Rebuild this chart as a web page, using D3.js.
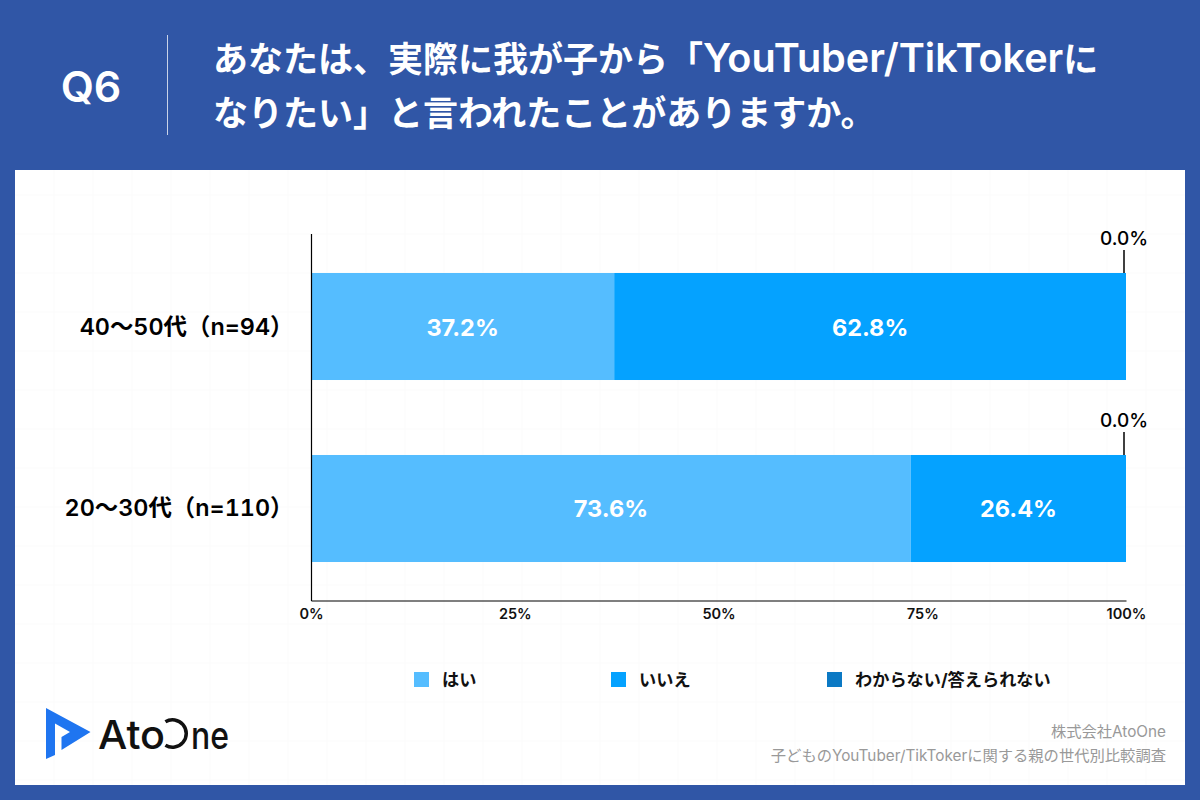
<!DOCTYPE html>
<html>
<head>
<meta charset="utf-8">
<script src="https://cdn.jsdelivr.net/npm/d3@7"></script>
<style>
  html, body { margin: 0; padding: 0; background: #3056a6; }
  svg { display: block; }
  text { font-family: "Inter", "Noto Sans CJK JP", sans-serif; }
</style>
</head>
<body>
<div id="chart"></div>
<script>
// chart data
const groups = ["40〜50代（n=94）", "20〜30代（n=110）"];
const answers = ["はい", "いいえ", "わからない/答えられない"];
const yesValues = [37.2, 73.6];
const noValues = [62.8, 26.4];
const unsureValues = [0.0, 0.0];
const tickValues = [0, 25, 50, 75, 100];
const answerColors = ["#55bdff", "#05a2ff", "#0b79c4"];

const titleLines = ["あなたは、実際に我が子から「YouTuber/TikTokerに", "なりたい」と言われたことがありますか。"];
const footerLines = ["株式会社AtoOne", "子どものYouTuber/TikTokerに関する親の世代別比較調査"];

const width = 1200;
const height = 800;

const svg = d3.select("#chart")
.append("svg")
.attr("width", width)
.attr("height", height);

// blue page background and white card
svg.append("rect")
.attr("width", width)
.attr("height", height)
.attr("fill", "#3056a6");

svg.append("rect")
.attr("x", 15)
.attr("y", 170)
.attr("width", 1170)
.attr("height", 615)
.attr("fill", "#fff");

// very faint grid on the card
const grid = svg.append("g").attr("stroke", "#fbfbfb").attr("stroke-width", 1);
d3.range(54, 1185, 39).forEach(x => {
    grid.append("line").attr("x1", x).attr("x2", x).attr("y1", 170).attr("y2", 785);
});
d3.range(195, 785, 39).forEach(y => {
    grid.append("line").attr("x1", 15).attr("x2", 1185).attr("y1", y).attr("y2", y);
});

// header
svg.append("text")
.attr("x", 91)
.attr("y", 102)
.attr("text-anchor", "middle")
.attr("font-size", 43)
.attr("font-weight", 600)
.attr("fill", "#fff")
.text("Q6");

svg.append("line")
.attr("x1", 167.5)
.attr("x2", 167.5)
.attr("y1", 35)
.attr("y2", 135)
.attr("stroke", "#c9d3e8")
.attr("stroke-width", 1);

// latin runs in the title are set a little larger than the kana
const titles = svg.selectAll(".title")
.data(titleLines)
.enter()
.append("text")
.attr("class", "title")
.attr("x", 213)
.attr("y", (d, i) => 72 + i * 54)
.attr("font-size", 35)
.attr("font-weight", 700)
.attr("fill", "#fff");

titles.selectAll("tspan")
.data(d => d.split(/([A-Za-z\/]+)/).filter(s => s.length))
.enter()
.append("tspan")
.attr("font-size", d => /^[A-Za-z\/]+$/.test(d) ? 39.6 : null)
.attr("font-weight", d => /^[A-Za-z\/]+$/.test(d) ? 600 : null)
.text(d => d);

// scales
const x = d3.scaleLinear()
.domain([0, 100])
.range([311, 1126]);

const y = d3.scaleBand()
.domain(groups)
.range([234.5, 600.5])
.paddingInner(0.412)
.paddingOuter(0.2115);

// stack the three answers
const rows = groups.map((g, i) => ({
    group: g,
    [answers[0]]: yesValues[i],
    [answers[1]]: noValues[i],
    [answers[2]]: unsureValues[i]
}));
const stacked = d3.stack().keys(answers)(rows);

const layers = svg.selectAll(".layer")
.data(stacked)
.enter()
.append("g")
.attr("class", "layer")
.attr("fill", (d, i) => answerColors[i]);

layers.selectAll("rect")
.data(d => d)
.enter()
.append("rect")
.attr("x", d => x(d[0]))
.attr("y", d => y(d.data.group))
.attr("width", d => x(d[1]) - x(d[0]))
.attr("height", y.bandwidth());

// value labels inside the bars
layers.selectAll("text")
.data(d => d.filter(v => v[1] - v[0] > 0))
.enter()
.append("text")
.attr("x", d => (x(d[0]) + x(d[1])) / 2)
.attr("y", d => y(d.data.group) + y.bandwidth() / 2 + 9)
.attr("text-anchor", "middle")
.attr("font-size", 23.5)
.attr("font-weight", 700)
.attr("fill", "#fff")
.text(d => `${(d[1] - d[0]).toFixed(1)}%`);

// zero value callouts above the bars
const zeroLabels = svg.selectAll(".zero")
.data(groups)
.enter()
.append("g")
.attr("class", "zero");

zeroLabels.append("line")
.attr("x1", 1124)
.attr("x2", 1124)
.attr("y1", g => y(g) - 23)
.attr("y2", g => y(g))
.attr("stroke", "#000")
.attr("stroke-width", 1.5);

zeroLabels.append("text")
.attr("x", 1124)
.attr("y", g => y(g) - 28)
.attr("text-anchor", "middle")
.attr("font-size", 19)
.attr("font-weight", 500)
.attr("fill", "#000")
.text((g, i) => `${unsureValues[i].toFixed(1)}%`);

// group labels on the left
svg.selectAll(".group")
.data(groups)
.enter()
.append("text")
.attr("class", "group")
.attr("x", 293.5)
.attr("y", g => y(g) + y.bandwidth() / 2 + 8)
.attr("text-anchor", "end")
.attr("font-size", 23.4)
.attr("font-weight", 600)
.attr("fill", "#000")
.style("font-variant-numeric", "tabular-nums")
.text(g => g);

// axes
const xAxis = d3.axisBottom(x)
.tickValues(tickValues)
.tickSize(0)
.tickPadding(8)
.tickFormat(d => `${d}%`);

const xAxisG = svg.append("g")
.attr("transform", "translate(0,600.5)")
.call(xAxis);

xAxisG.select(".domain").attr("stroke", "#000").attr("stroke-width", 1.2);
xAxisG.selectAll("text")
.attr("font-size", 14.5)
.attr("font-weight", 600)
.attr("fill", "#111")
.style("font-family", "Inter");

svg.append("line")
.attr("x1", 311.5)
.attr("x2", 311.5)
.attr("y1", 234)
.attr("y2", 601)
.attr("stroke", "#000")
.attr("stroke-width", 1.2);

// legend
const legendX = [414, 611, 827];
const legend = svg.selectAll(".legend")
.data(answers)
.enter()
.append("g")
.attr("class", "legend")
.attr("transform", (d, i) => `translate(${legendX[i]},672)`);

legend.append("rect")
.attr("width", 15)
.attr("height", 15)
.attr("fill", (d, i) => answerColors[i]);

legend.append("text")
.attr("x", 28)
.attr("y", 14)
.attr("font-size", 17.2)
.attr("font-weight", 700)
.attr("fill", "#111")
.text(d => d);

// logo
svg.append("path")
.attr("d", "M46 708 L90.500 732 L61.500 750 L61.500 737 L70 732 L55 723.500 L55 755 L46 759 Z")
.attr("fill", "#1f75f0");

const logoText = svg.append("g")
.attr("font-weight", 500)
.attr("fill", "#111");

logoText.append("text")
.attr("x", 98)
.attr("y", 749)
.attr("font-size", 40)
.attr("textLength", 67)
.attr("lengthAdjust", "spacingAndGlyphs")
.text("Ato");

logoText.append("text")
.attr("x", 191)
.attr("y", 749)
.attr("font-size", 38)
.attr("textLength", 38)
.attr("lengthAdjust", "spacingAndGlyphs")
.text("ne");

// the open O of the wordmark
svg.append("path")
.attr("d", d3.arc()({
    innerRadius: 12,
    outerRadius: 15.5,
    startAngle: -0.54,
    endAngle: Math.PI + 0.54
}))
.attr("transform", "translate(172.500,733.500)")
.attr("fill", "#111");

// footer
svg.selectAll(".footer")
.data(footerLines)
.enter()
.append("text")
.attr("class", "footer")
.attr("x", 1166)
.attr("y", (d, i) => 737 + i * 24)
.attr("text-anchor", "end")
.attr("font-size", 15.3)
.attr("fill", "#999")
.text(d => d);
</script>
</body>
</html>
